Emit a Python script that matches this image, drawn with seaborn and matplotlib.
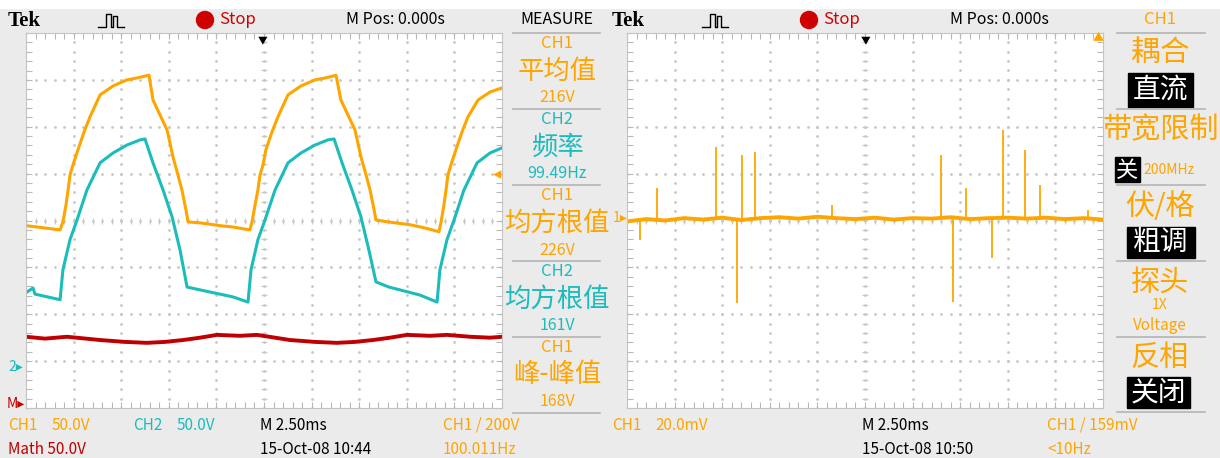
import numpy as np
import matplotlib
matplotlib.use("Agg")
import matplotlib.pyplot as plt
from matplotlib.patches import Rectangle, Ellipse
from matplotlib.lines import Line2D
from matplotlib.ticker import MultipleLocator
import seaborn as sns

# screen units: time in ms (2.5 ms/div, 10 div), vertical in divisions (-4..4)

# left capture, 15-Oct-08 10:44
ch1_t = [0.00, 1.00, 1.79, 1.94, 2.10, 2.21, 2.31, 2.47, 2.73, 3.05, 3.36, 3.89, 4.57, 5.30, 5.83,
         6.25, 6.46, 6.67, 7.04, 7.41, 7.72, 7.98, 8.19, 8.40, 8.51, 9.14, 10.19, 10.87, 11.76,
         11.87, 12.03, 12.18, 12.29, 12.45, 12.60, 12.92, 13.23, 13.76, 14.44, 15.18, 15.70, 16.12,
         16.28, 16.54, 16.91, 17.28, 17.59, 17.86, 18.07, 18.28, 18.38, 19.01, 20.17, 20.96, 21.69,
         21.80, 21.95, 22.06, 22.16, 22.32, 22.58, 22.90, 23.21, 23.74, 24.37, 25.00]
ch1_y = [-0.11, -0.16, -0.20, -0.03, 0.33, 0.65, 0.97, 1.19, 1.51, 1.89, 2.21, 2.68, 2.87, 3.00, 3.04,
         3.08, 3.10, 2.57, 2.25, 1.93, 1.36, 0.97, 0.65, 0.23, -0.03, -0.05, -0.11, -0.14, -0.20,
         -0.03, 0.33, 0.65, 0.97, 1.19, 1.51, 1.89, 2.21, 2.68, 2.87, 3.00, 3.04, 3.08,
         3.10, 2.57, 2.25, 1.93, 1.36, 0.97, 0.65, 0.23, 0.01, -0.03, -0.09, -0.16, -0.24,
         -0.03, 0.33, 0.65, 0.97, 1.19, 1.51, 1.89, 2.21, 2.57, 2.74, 2.83]

ch2_t = [0.00, 0.37, 0.47, 1.79, 1.94, 2.31, 2.68, 3.20, 3.89, 4.57, 5.30, 5.99, 6.25, 6.67, 7.20,
         7.67, 8.09, 8.46, 9.14, 10.87, 11.66,
         11.82, 12.18, 12.55, 13.08, 13.76, 14.44, 15.18, 15.86, 16.18, 16.60, 17.12, 17.59, 18.01,
         18.38, 19.06, 20.69, 21.59,
         21.74, 22.11, 22.48, 23.00, 23.69, 24.37, 25.00]
ch2_y = [-1.54, -1.44, -1.57, -1.69, -1.05, -0.41, 0.01, 0.65, 1.23, 1.44, 1.61, 1.72, 1.74, 1.23, 0.65,
         0.08, -0.63, -1.42, -1.48, -1.63, -1.74,
         -1.05, -0.41, 0.01, 0.65, 1.23, 1.44, 1.61, 1.72, 1.74, 1.23, 0.65, 0.08, -0.63,
         -1.31, -1.42, -1.59, -1.74,
         -1.05, -0.41, 0.01, 0.65, 1.23, 1.44, 1.55]

math_t = [0.00, 1.00, 2.15, 3.89, 5.20, 6.35, 7.30, 8.25, 9.14, 10.03, 11.24, 12.13, 13.08,
          13.87, 15.18, 16.33, 17.28, 18.22, 19.12, 20.01, 21.22, 22.11, 23.32, 24.37, 25.00]
math_y = [-2.48, -2.52, -2.48, -2.55, -2.59, -2.61, -2.59, -2.55, -2.50, -2.44, -2.46, -2.44, -2.50,
          -2.55, -2.59, -2.61, -2.59, -2.55, -2.50, -2.44, -2.46, -2.44, -2.48, -2.50, -2.48]

# right capture, 15-Oct-08 10:50 (CH1 20 mV/div)
r_base_t = list(range(26))
r_base_y = [-0.02, 0.03, 0.00, 0.05, 0.02, 0.06, 0.01, 0.05, 0.07, 0.04, 0.08, 0.05, 0.03,
            0.06, 0.02, 0.05, 0.04, 0.07, 0.03, 0.05, 0.06, 0.04, 0.06, 0.03, 0.05, 0.02]
r_spike_t = [0.68, 1.58, 4.67, 5.78, 6.04, 6.72, 10.77, 16.49, 17.12, 17.80, 19.17, 19.75, 20.90, 21.69, 24.21]
r_spike_y = [-0.41, 0.70, 1.57, -1.76, 1.40, 1.46, 0.33, 1.40, -1.74, 0.70, -0.80, 1.93, 1.51, 0.76, 0.23]
r_spike_base = 0.04

measure_ch = ["CH1", "CH2", "CH1", "CH2", "CH1"]
measure_name = ["平均值", "频率", "均方根值", "均方根值", "峰-峰值"]
measure_val = ["216V", "99.49Hz", "226V", "161V", "168V"]

ORANGE = "#ffa500"
CYAN = "#1cbcbc"
DRED = "#c00000"
RED = "#d00000"
BG = "#ebebeb"
GRID = "#b8b8b8"
DOT = "#c8c8c8"
FONT = ["Noto Sans CJK SC", "DejaVu Sans"]

W, H = 1220, 458
fig = plt.figure(figsize=(W / 100, H / 100), dpi=100, facecolor=BG)


def fx(x):
    return x / W


def fy(y):
    return 1 - y / H


def txt(x, y, s, color="black", size=11, ha="left", **kw):
    fig.text(fx(x), fy(y), s, color=color, fontsize=size, ha=ha, va="center", family=FONT, **kw)


def box(x0, y0, x1, y1, color="black"):
    fig.patches.append(Rectangle((fx(x0), fy(y1)), (x1 - x0) / W, (y1 - y0) / H,
                                 transform=fig.transFigure, color=color, zorder=1))


def hline(x0, x1, y):
    fig.lines.append(Line2D([fx(x0), fx(x1)], [fy(y), fy(y)], transform=fig.transFigure,
                            color="#b4b4b4", lw=1.2))


box(0, 0, W, 8, "white")


def scope_axes(x0, x1):
    ax = fig.add_axes([fx(x0), fy(408), (x1 - x0) / W, (408 - 33) / H])
    ax.set_facecolor("white")
    ax.xaxis.set_major_locator(MultipleLocator(2.5))
    ax.xaxis.set_minor_locator(MultipleLocator(0.5))
    ax.yaxis.set_major_locator(MultipleLocator(1))
    ax.yaxis.set_minor_locator(MultipleLocator(0.2))
    ax.tick_params(which="both", direction="in", top=True, right=True, labelbottom=False,
                   labelleft=False, color=GRID, length=4, width=0.8)
    for s in ax.spines.values():
        s.set_color("#c4c4c4")
        s.set_linewidth(0.8)
    ys = np.arange(-4, 4.01, 0.2)
    xs = np.arange(0, 25.01, 0.5)
    for gx in np.arange(2.5, 25, 2.5):
        ax.plot(np.full_like(ys, gx), ys, ls="", marker="o", ms=1.0, color=DOT, zorder=0)
    for gy in range(-3, 4):
        ax.plot(xs, np.full_like(xs, gy), ls="", marker="o", ms=1.0, color=DOT, zorder=0)
    ax.plot(xs, np.zeros_like(xs), ls="", marker="|", ms=4, mew=0.8, color=DOT, zorder=0)
    ax.plot(np.full_like(ys, 12.5), ys, ls="", marker="_", ms=4, mew=0.8, color=DOT, zorder=0)
    return ax


axl = scope_axes(26, 502)
sns.lineplot(x=math_t, y=math_y, ax=axl, color=DRED, lw=2.8, sort=False, estimator=None)
sns.lineplot(x=ch2_t, y=ch2_y, ax=axl, color=CYAN, lw=2.2, sort=False, estimator=None)
sns.lineplot(x=ch1_t, y=ch1_y, ax=axl, color=ORANGE, lw=2.2, sort=False, estimator=None)

axr = scope_axes(627, 1103)
axr.vlines(r_spike_t, r_spike_base, r_spike_y, color=ORANGE, lw=1.3)
sns.lineplot(x=r_base_t, y=r_base_y, ax=axr, color=ORANGE, lw=2.8, sort=False, estimator=None)

for ax in (axl, axr):
    ax.set_xlim(0, 25)
    ax.set_ylim(-4, 4)
    ax.set_xlabel("")
    ax.set_ylabel("")

# header rows
for off in (0, 604):
    fig.text(fx(8 + off), fy(21), "Tek", family="Liberation Serif", weight="bold", fontsize=15,
             va="center", color="black")
    px = np.array([98, 106, 106, 111, 111, 113, 113, 117, 117, 124]) + off
    py = np.array([27, 27, 14, 14, 27, 27, 16, 16, 27, 27])
    fig.lines.append(Line2D(fx(px), fy(py), transform=fig.transFigure, color="black", lw=1))
    fig.patches.append(Ellipse((fx(205 + off), fy(20)), 17 / W, 17 / H, transform=fig.transFigure,
                               color=RED))
    txt(219 + off, 20, "Stop", RED, 12)
    txt(346 + off, 20, "M Pos: 0.000s", "black", 11.5)
txt(557, 20, "MEASURE", "black", 11.5, ha="center")
txt(1160, 20, "CH1", ORANGE, 12, ha="center")

# measure panel (left)
for i in range(5):
    top = 33 + 76 * i
    col = ORANGE if measure_ch[i] == "CH1" else CYAN
    hline(513, 600, top)
    txt(557, top + 11, measure_ch[i], col, 12, ha="center")
    txt(557, top + 38, measure_name[i], col, 19, ha="center")
    txt(557, top + 65, measure_val[i], col, 11.5, ha="center")
hline(513, 600, 413)

# channel menu (right)
for y in (33, 109, 185, 261, 337, 412):
    hline(1117, 1205, y)
txt(1160, 53, "耦合", ORANGE, 21, ha="center")
box(1128, 73, 1193, 107)
txt(1160, 90, "直流", "white", 20, ha="center")
txt(1161, 130, "带宽限制", ORANGE, 21, ha="center")
box(1115, 157, 1140, 182)
txt(1127, 170, "关", "white", 16, ha="center")
txt(1143, 170, "200MHz", ORANGE, 10)
txt(1160, 207, "伏/格", ORANGE, 21, ha="center")
box(1127, 227, 1195, 258)
txt(1161, 242, "粗调", "white", 20, ha="center")
txt(1160, 283, "探头", ORANGE, 21, ha="center")
txt(1160, 305, "1X", ORANGE, 10, ha="center")
txt(1160, 325, "Voltage", ORANGE, 11, ha="center")
txt(1160, 358, "反相", ORANGE, 21, ha="center")
box(1127, 377, 1190, 408)
txt(1158, 392, "关闭", "white", 20, ha="center")

# channel / trigger markers
txt(8, 367, "2▸", CYAN, 10)
txt(7, 404, "M▸", DRED, 10)
txt(497, 175, "◂", ORANGE, 12, ha="center")
txt(263, 40, "▼", "black", 7, ha="center")
txt(866, 40, "▼", "black", 7, ha="center")
txt(613, 218, "1▸", ORANGE, 10)
txt(1098, 38, "▲", ORANGE, 8, ha="center")

# bottom status rows
txt(8, 425, "CH1", ORANGE)
txt(52, 425, "50.0V", ORANGE)
txt(133, 425, "CH2", CYAN)
txt(177, 425, "50.0V", CYAN)
txt(260, 425, "M 2.50ms")
txt(443, 425, "CH1 / 200V", ORANGE)
txt(8, 449, "Math 50.0V", DRED)
txt(260, 449, "15-Oct-08 10:44")
txt(443, 449, "100.011Hz", ORANGE)

txt(612, 425, "CH1", ORANGE)
txt(655, 425, "20.0mV", ORANGE)
txt(862, 425, "M 2.50ms")
txt(1047, 425, "CH1 / 159mV", ORANGE)
txt(862, 449, "15-Oct-08 10:50")
txt(1047, 449, "<10Hz", ORANGE)

fig.savefig("out.png", dpi=100, facecolor=BG)
